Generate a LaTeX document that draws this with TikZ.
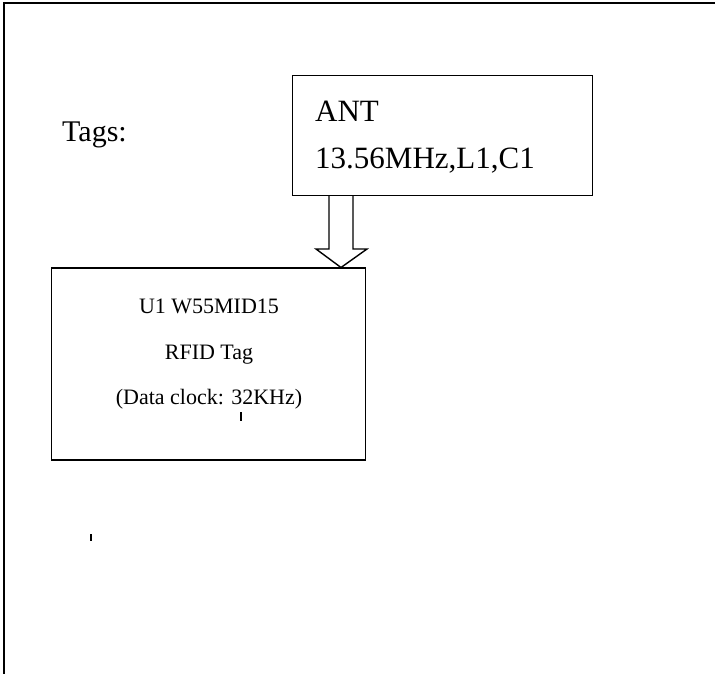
\documentclass[tikz,border=0pt]{standalone}
\usepackage{fontspec}
\setmainfont{Liberation Serif}
\begin{document}
\begin{tikzpicture}[x=1pt,y=-1pt,
  frameline/.style={draw=black,line width=2pt},
  boxstyle/.style={draw=black,line width=1.4pt,rectangle,inner sep=0pt},
  arrowline/.style={draw=black,line width=1.4pt,line join=miter},
  bigtxt/.style={font=\fontsize{31}{31}\selectfont,inner sep=0pt,anchor=base west},
  smalltxt/.style={font=\fontsize{22}{22}\selectfont,inner sep=0pt,anchor=base},
  speck/.style={draw=black,line width=1.2pt}]
\useasboundingbox (0,0) rectangle (715,674);
% outer frame (only top and left edges visible)
\coordinate (fbl) at (4,676);
\coordinate (ftl) at (4,3.5);
\coordinate (ftr) at (717,3.5);
\draw[frameline] (fbl) -- (ftl) -- (ftr);
% Tags label
\node[font=\fontsize{30}{30}\selectfont,inner sep=0pt,anchor=base west] (tags) at (62,142) {Tags:};
% ANT box
\node[boxstyle,minimum width=299.5pt,minimum height=119.5pt] (ant) at (442.5,135.5) {};
\node[bigtxt] (antl1) at (315,122) {ANT};
\node[bigtxt] (antl2) at (315,168) {13.56MHz,L1,C1};
% Tag box
\node[boxstyle,minimum width=313.5pt,minimum height=192pt] (tag) at (208.5,364) {};
\node[smalltxt] (t1) at (209,313) {U1 W55MID15};
\node[smalltxt] (t2) at (209,359) {RFID Tag};
\node[smalltxt] (t3) at (209,404) {(Data clock: 32KHz)};
% hollow block arrow from ANT to tag
\coordinate (sl) at (329,195);
\coordinate (sr) at (353,195);
\coordinate (hl) at (329,249);
\coordinate (hr) at (353,249);
\coordinate (wl) at (316,249);
\coordinate (wr) at (367,249);
\coordinate (tip) at (341,267.5);
\draw[arrowline] (sl) -- (hl) -- (wl) -- (tip) -- (wr) -- (hr) -- (sr);
% scan specks
\coordinate (s1a) at (241,412);
\coordinate (s1b) at (241,421);
\draw[speck] (s1a) -- (s1b);
\coordinate (s2a) at (91,534);
\coordinate (s2b) at (91,541);
\draw[speck,line width=1.6pt] (s2a) -- (s2b);
\end{tikzpicture}
\end{document}
